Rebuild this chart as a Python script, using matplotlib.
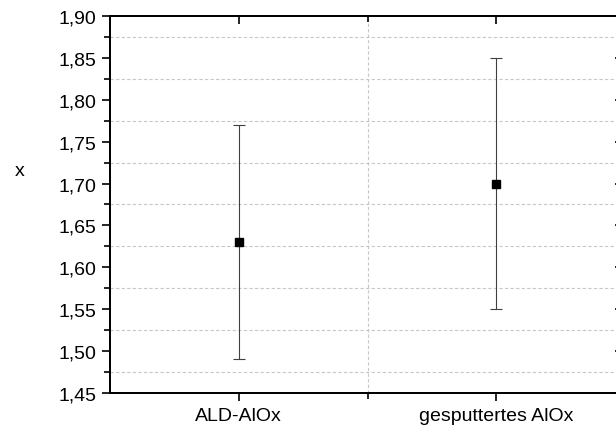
import matplotlib
matplotlib.use("Agg")
import matplotlib.pyplot as plt
from matplotlib.ticker import MultipleLocator, FixedLocator, FuncFormatter

plt.rcParams['font.family'] = ['Liberation Sans', 'DejaVu Sans']

categories = ["ALD-AlOx", "gesputtertes AlOx"]
x_values = [1.63, 1.70]
x_errors = [0.14, 0.15]

W, H = 616, 435
fig = plt.figure(figsize=(W / 100, H / 100), dpi=100)
left, right, bottom, top = 110, 625, 394, 17
ax = fig.add_axes([left / W, (H - bottom) / H, (right - left) / W, (bottom - top) / H])

pos = [1, 2]
ax.errorbar(pos, x_values, yerr=x_errors, fmt='s', color='black', markersize=6,
            ecolor='#404040', elinewidth=0.8, capsize=4, capthick=0.8, zorder=3)

ax.set_xlim(0.5, 2.5)
ax.set_ylim(1.45, 1.90)

ax.xaxis.set_major_locator(FixedLocator(pos))
ax.set_xticklabels(categories)
ax.xaxis.set_minor_locator(FixedLocator([1.5]))
ax.yaxis.set_major_locator(MultipleLocator(0.05))
ax.yaxis.set_minor_locator(MultipleLocator(0.025))
ax.yaxis.set_major_formatter(FuncFormatter(lambda v, p: f"{v:.2f}".replace('.', ',')))

ax.grid(True, which='minor', linestyle=(0, (3, 2)), color='#c8c8c8', linewidth=0.8)
ax.grid(False, which='major')

for s in ax.spines.values():
    s.set_linewidth(1.2)

ax.tick_params(axis='both', which='major', direction='out', length=6, width=1.2,
               labelsize=14, pad=4, top=False, right=False)
ax.tick_params(axis='both', which='minor', direction='out', length=4, width=1.2,
               top=False, right=False)

# inward ticks on the top and right frame
axt = ax.twiny()
axt.set_xlim(ax.get_xlim())
axt.xaxis.set_major_locator(FixedLocator(pos))
axt.xaxis.set_minor_locator(FixedLocator([1.5]))
axt.tick_params(axis='x', which='major', direction='in', length=6, width=1.2, labeltop=False)
axt.tick_params(axis='x', which='minor', direction='in', length=4, width=1.2)

axr = ax.twinx()
axr.set_ylim(ax.get_ylim())
axr.yaxis.set_major_locator(MultipleLocator(0.05))
axr.yaxis.set_minor_locator(MultipleLocator(0.025))
axr.tick_params(axis='y', which='major', direction='in', length=7.5, width=1.2, labelright=False)
axr.tick_params(axis='y', which='minor', direction='in', length=4, width=1.2)
for a in (axt, axr):
    for s in a.spines.values():
        s.set_linewidth(1.2)

fig.text(20 / W, 1 - 172 / H, "x", fontsize=14, ha='center', va='center')

fig.savefig("out.png", dpi=100)
